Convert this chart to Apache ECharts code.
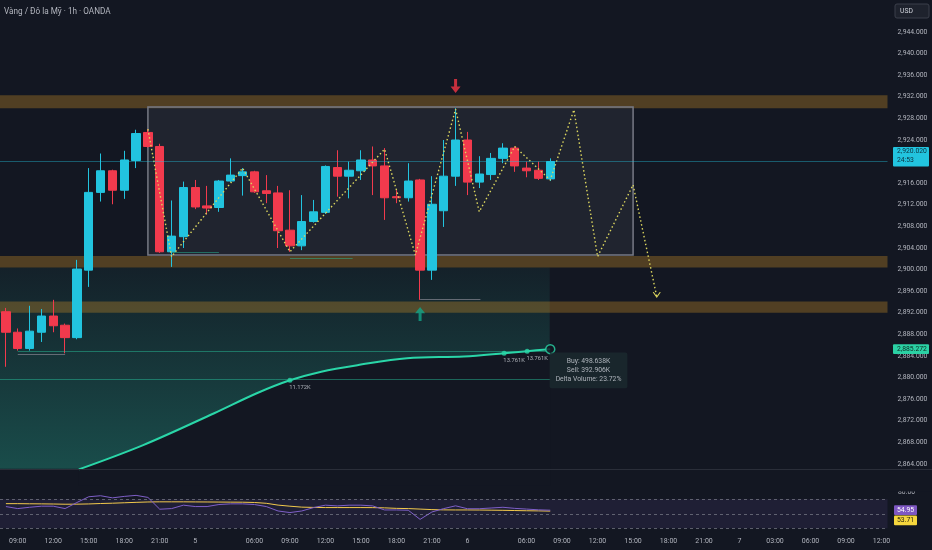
<!DOCTYPE html>
<html>
<head>
<meta charset="utf-8">
<script src="https://cdn.jsdelivr.net/npm/echarts@6.0.0/dist/echarts.min.js"></script>
<style>
html,body{margin:0;padding:0;background:#131722;overflow:hidden}
#chart{width:932px;height:550px}
</style>
</head>
<body>
<div id="chart"></div>
<script>
// ---------- data ----------
const chartTitle = 'Vàng / Đô la Mỹ · 1h · OANDA';
const categories = [
  '4 08:00','4 09:00','4 10:00','4 11:00','4 12:00','4 13:00','4 14:00','4 15:00','4 16:00','4 17:00','4 18:00','4 19:00','4 20:00','4 21:00','4 22:00','4 23:00',
  '5 00:00','5 01:00','5 02:00','5 03:00','5 04:00','5 06:00','5 07:00','5 08:00','5 09:00','5 10:00','5 11:00','5 12:00','5 13:00','5 14:00','5 15:00','5 16:00','5 17:00','5 18:00','5 19:00','5 20:00','5 21:00','5 22:00','5 23:00',
  '6 00:00','6 01:00','6 02:00','6 03:00','6 04:00','6 06:00','6 07:00','6 08:00','6 09:00','6 10:00','6 11:00','6 12:00','6 13:00','6 14:00','6 15:00','6 16:00','6 17:00','6 18:00','6 19:00','6 20:00','6 21:00','6 22:00','6 23:00',
  '7 00:00','7 01:00','7 02:00','7 03:00','7 04:00','7 05:00','7 06:00','7 07:00','7 08:00','7 09:00','7 10:00','7 11:00','7 12:00'
];
const timeLabels = ['4 09:00','4 12:00','4 15:00','4 18:00','4 21:00','5 00:00','5 06:00','5 09:00','5 12:00','5 15:00','5 18:00','5 21:00',
  '6 00:00','6 06:00','6 09:00','6 12:00','6 15:00','6 18:00','6 21:00','7 00:00','7 03:00','7 06:00','7 09:00','7 12:00'];
// [open, close, low, high]
const candles = [
  [2892.2,2888.4,2882.0,2892.9],[2888.4,2885.4,2885.0,2889.1],[2885.4,2888.6,2885.0,2893.3],[2888.4,2891.4,2886.6,2892.7],
  [2891.4,2889.6,2888.4,2894.4],[2889.7,2887.4,2884.5,2890.0],[2887.4,2900.1,2887.1,2901.8],[2899.9,2914.3,2896.8,2918.8],
  [2914.3,2918.3,2912.6,2921.5],[2918.3,2914.7,2912.1,2918.5],[2914.7,2920.3,2913.1,2922.0],[2920.2,2925.2,2918.8,2925.9],
  [2925.4,2922.8,2922.6,2926.0],[2922.8,2903.3,2903.1,2923.3],[2903.3,2906.2,2900.5,2912.8],[2906.1,2915.2,2904.0,2916.3],
  [2915.2,2911.6,2911.2,2916.6],[2911.8,2911.4,2910.2,2915.5],[2911.5,2916.4,2910.7,2916.6],[2916.4,2917.5,2916.2,2920.6],
  [2917.4,2918.1,2913.7,2918.8],[2918.1,2914.4,2914.2,2918.3],[2914.6,2914.1,2912.3,2917.5],[2914.2,2907.2,2904.0,2915.5],
  [2907.3,2904.4,2903.3,2914.7],[2904.4,2908.9,2903.6,2913.8],[2908.9,2910.7,2908.7,2912.9],[2910.6,2919.1,2910.3,2919.3],
  [2918.9,2917.3,2913.5,2922.1],[2917.3,2918.4,2913.2,2920.0],[2918.3,2920.3,2916.6,2922.1],[2920.3,2919.2,2913.8,2922.8],
  [2919.2,2913.3,2909.2,2922.5],[2913.5,2913.3,2912.3,2914.7],[2913.3,2916.4,2912.6,2919.7],[2916.6,2899.9,2894.4,2916.8],
  [2899.9,2912.1,2898.1,2917.3],[2910.9,2917.3,2907.9,2924.0],[2917.3,2924.0,2915.5,2929.9],[2924.0,2916.2,2913.8,2925.5],
  [2916.2,2917.7,2915.1,2921.0],[2917.6,2920.6,2916.6,2921.6],[2920.6,2922.5,2919.7,2923.4],[2922.5,2919.2,2918.1,2922.8],
  [2918.8,2918.3,2917.1,2920.0],[2918.4,2916.9,2916.6,2920.0],[2916.8,2920.02,2916.4,2920.6]
];
const lastPrice = 2920.02;
const countdown = '24:53';
const zones = [[2929.9,2932.3],[2900.4,2902.5],[2892.0,2894.1]];
const rangeBox = [[12,2930.1],[53,2902.7]];
const flowZone = [[-0.5,2900.4],[45.95,2863.1]];
const zigzag = [[12,2926.0],[14,2902.4],[20,2918.8],[24,2903.3],[32,2922.3],[34.6,2902.7],[38,2929.7],[40,2910.7],
  [43,2922.8],[46,2916.6],[48,2929.6],[50,2902.4],[53,2915.7],[55,2895.0]];
const volCurve = [[6.16,2863.0],[11.6,2867.5],[17.6,2873.4],[21.2,2877.1],[24,2879.5],[26.65,2881.1],[29.7,2882.3],
  [33.9,2883.6],[38.7,2883.9],[42.1,2884.5],[44.05,2884.9],[46,2885.272]];
const curveMarkIdx = [4,9,10];
const curveMarkLabels = ['11.172K','13.761K','13.761K'];
const tealLevels = [[14,18,2903.3],[24,29.3,2902.1],[1,46,2884.9],[-0.5,46,2879.7]];
const grayLevels = [[35,40.1,2894.5],[1,5,2884.4]];
const sellSignal = [38,2934.0];
const buySignal = [35,2891.8];
const deltaText = ['Buy: 498.638K','Sell: 392.906K','Delta Volume: 23.72%'];
const rsi = [60,57.2,59,60.5,60.5,57.2,65.6,73.5,74.9,72,74,75.4,72.6,56.3,57.2,61.9,60,60,62.8,63.7,63.7,62.8,60,53.9,
  51.7,53.9,58.6,61.9,60.9,61.9,61.9,60.9,55.3,55.3,54.9,42.3,52.5,57.2,61,57,57,58,59,57.5,56.5,55.5,54.95];
const rsiMa = [64,64,63.8,63.7,63.5,63.2,63.3,63.6,64.2,64.6,65.2,65.8,66.3,66.5,66.5,66.5,66.4,66.3,66.2,66.1,66,65.6,
  64.5,62,60.5,59.2,58.8,58.6,58.6,58.6,58.6,58.5,58.2,57.5,57.2,56.5,55.8,55.4,55.3,55.3,55.2,55,54.8,54.5,54.2,54,53.71];
const rsiLevels = [70,50,30];
const rsiBand = [30,70];

// ---------- style ----------
const BG = '#131722';
const UP = '#22c4df', DOWN = '#f23a4d';
const CURVE = '#2ad6a8';
const TXT = '#b2b5be';
const FONT = 'Roboto, "Noto Sans", sans-serif';

function fmtPrice(v){
  const s = v.toFixed(3).split('.');
  return s[0].replace(/\B(?=(\d{3})+(?!\d))/g, ',') + '.' + s[1];
}

const chart = echarts.init(document.getElementById('chart'));
const ovl = {xAxisIndex:1, yAxisIndex:0};

const option = {
  backgroundColor: BG,
  animation: false,
  title: {text: chartTitle, left: 4, top: 8, padding: 0, textStyle: {fontSize: 8.2, color: TXT, fontWeight: 'normal', fontFamily: FONT}},
  grid: [
    {left: 0, right: 44.5, top: 10.4, bottom: 64.4},
    {left: 0, right: 44.5, top: 484.8, bottom: 14.45}
  ],
  xAxis: [
    {type: 'category', gridIndex: 0, data: categories, boundaryGap: true, show: false},
    {type: 'value', gridIndex: 0, min: -0.5, max: 74.5, show: false},
    {type: 'category', gridIndex: 1, data: categories, boundaryGap: true,
      axisLine: {show: false}, axisTick: {show: false}, splitLine: {show: false},
      axisLabel: {interval: (i, v) => timeLabels.indexOf(v) >= 0, hideOverlap: false,
        formatter: v => { const p = v.split(' '); return p[1] === '00:00' ? p[0] : p[1]; },
        color: TXT, fontSize: 7, margin: 2, fontFamily: FONT}}
  ],
  yAxis: [
    {type: 'value', gridIndex: 0, position: 'right', min: 2860, max: 2948, interval: 4,
      axisLine: {show: false}, axisTick: {show: false}, splitLine: {show: false},
      axisLabel: {color: TXT, fontSize: 6.8, margin: 10, fontFamily: FONT,
        formatter: v => (v <= 2860 || v >= 2948) ? '' : fmtPrice(v)}},
    {type: 'value', gridIndex: 1, min: 20, max: 90, show: false, splitLine: {show: false}}
  ],
  series: [
    // teal flow gradient
    Object.assign({type: 'line', data: [], silent: true,
      markArea: {silent: true, data: [[{xAxis: flowZone[0][0], yAxis: flowZone[0][1]}, {xAxis: flowZone[1][0], yAxis: flowZone[1][1]}]],
        itemStyle: {color: {type: 'linear', x: 0, y: 0, x2: 0, y2: 1, colorStops: [
          {offset: 0, color: 'rgba(38,190,160,0.06)'}, {offset: 1, color: 'rgba(38,190,160,0.32)'}]}}}}, ovl),
    // supply / demand zones
    Object.assign({type: 'line', data: [], silent: true,
      markArea: {silent: true, itemStyle: {color: 'rgba(210,145,40,0.33)'},
        data: zones.map(z => [{xAxis: -0.5, yAxis: z[1]}, {xAxis: 74.5, yAxis: z[0]}])}}, ovl),
    // range box
    Object.assign({type: 'line', data: [], silent: true,
      markArea: {silent: true, itemStyle: {color: 'rgba(150,155,170,0.10)', borderColor: '#777a85', borderWidth: 1.5},
        data: [[{xAxis: rangeBox[0][0], yAxis: rangeBox[0][1]}, {xAxis: rangeBox[1][0], yAxis: rangeBox[1][1]}]]}}, ovl),
    // cumulative volume curve
    Object.assign({type: 'line', data: volCurve, smooth: 0.35, symbol: 'none', silent: true,
      lineStyle: {color: CURVE, width: 2}, areaStyle: {color: BG, opacity: 1, origin: 'start'}}, ovl),
    // levels
    Object.assign({type: 'line', data: [], silent: true,
      markLine: {silent: true, symbol: 'none', label: {show: false},
        data: tealLevels.map(s => [{coord: [s[0], s[2]], lineStyle: {color: 'rgba(40,200,160,0.45)', width: 1, type: 'solid'}}, {coord: [s[1], s[2]]}])
          .concat(grayLevels.map(s => [{coord: [s[0], s[2]], lineStyle: {color: 'rgba(120,123,134,0.8)', width: 1, type: 'solid'}}, {coord: [s[1], s[2]]}]))}}, ovl),
    // candles
    {type: 'candlestick', xAxisIndex: 0, yAxisIndex: 0, data: candles, barWidth: '76%', silent: true,
      itemStyle: {color: UP, color0: DOWN, borderColor: UP, borderColor0: DOWN, borderWidth: 1},
      markLine: {silent: true, symbol: 'none', label: {show: false},
        lineStyle: {color: 'rgba(34,196,223,0.4)', width: 1, type: 'solid'}, data: [{yAxis: lastPrice}]}},
    // zigzag projection
    Object.assign({type: 'line', data: zigzag, symbol: 'none', silent: true, z: 4,
      lineStyle: {color: '#dcd65e', width: 1.4, type: [1.5, 2.5]},
      markPoint: {silent: true, symbol: 'path://M0,0 L5,6 L10,0', symbolSize: [7, 5], symbolOffset: [0, -2],
        itemStyle: {color: 'rgba(0,0,0,0)', borderColor: '#dcd65e', borderWidth: 1}, label: {show: false},
        data: [{coord: zigzag[zigzag.length - 1]}]}}, ovl),
    // signals
    Object.assign({type: 'scatter', silent: true, z: 5,
      symbol: 'path://M3.5,0 L6.5,0 L6.5,6.5 L10,6.5 L5,12 L0,6.5 L3.5,6.5 Z', symbolSize: [10, 14],
      data: [{value: sellSignal, symbolRotate: 0, itemStyle: {color: '#f23645'}},
             {value: buySignal, symbolRotate: 180, itemStyle: {color: '#12a488'}}]}, ovl),
    // curve markers
    Object.assign({type: 'scatter', silent: true, z: 5, symbol: 'circle', symbolSize: 5, itemStyle: {color: CURVE},
      label: {show: true, position: 'bottom', distance: 2, offset: [10, 0], fontSize: 5.8, color: '#d1d4dc', fontFamily: FONT},
      data: curveMarkIdx.map((k, j) => ({value: volCurve[k], label: {formatter: curveMarkLabels[j]}}))}, ovl),
    // end point + delta annotation
    Object.assign({type: 'scatter', silent: true, z: 6, symbol: 'circle', symbolSize: 9,
      itemStyle: {color: BG, borderColor: CURVE, borderWidth: 1.5},
      label: {show: true, position: [43.5, 8.5], align: 'center', verticalAlign: 'top', formatter: deltaText.join('\n'),
        fontSize: 6.8, lineHeight: 9.3, color: '#d1d4dc', fontFamily: FONT, backgroundColor: '#1c2b30', padding: [4, 6], borderRadius: 2},
      data: [volCurve[volCurve.length - 1]]}, ovl),
    // oscillator
    {type: 'line', xAxisIndex: 2, yAxisIndex: 1, data: rsiMa, symbol: 'none', silent: true,
      lineStyle: {color: '#f2c94c', width: 1},
      markArea: {silent: true, itemStyle: {color: 'rgba(126,87,194,0.12)'}, data: [[{yAxis: rsiBand[0]}, {yAxis: rsiBand[1]}]]},
      markLine: {silent: true, symbol: 'none', label: {show: false},
        lineStyle: {color: 'rgba(140,143,154,0.6)', type: [3, 3], width: 1}, data: rsiLevels.map(v => ({yAxis: v}))}},
    {type: 'line', xAxisIndex: 2, yAxisIndex: 1, data: rsi, symbol: 'none', silent: true,
      lineStyle: {color: '#7e5fc8', width: 1}}
  ]
};
chart.setOption(option);

// right-hand tags
const yLast = chart.convertToPixel({yAxisIndex: 0}, lastPrice);
const curveLast = volCurve[volCurve.length - 1][1];
const yCurve = chart.convertToPixel({yAxisIndex: 0}, curveLast);
const yRsi = chart.convertToPixel({yAxisIndex: 1}, rsi[rsi.length - 1]);
const y80 = chart.convertToPixel({yAxisIndex: 1}, 80);
const tf = {fontSize: 6.8, fontFamily: FONT};
chart.setOption({graphic: [
  {type: 'line', shape: {x1: 0, y1: 469.5, x2: 932, y2: 469.5}, style: {stroke: '#2a2e39', lineWidth: 1}, z: 50},
  {type: 'text', x: 898, y: y80, style: Object.assign({text: '80.00', fill: TXT, verticalAlign: 'middle'}, tf), z: 50},
  {type: 'rect', shape: {x: 888, y: 470.5, width: 44, height: y80 - 471}, style: {fill: BG}, z: 51},
  {type: 'rect', shape: {x: 895, y: 4, width: 34, height: 14, r: 2}, style: {fill: '#1e222d', stroke: '#3b3f4b', lineWidth: 1}, z: 50},
  {type: 'text', x: 900, y: 11, style: Object.assign({text: 'USD', fill: '#d1d4dc', verticalAlign: 'middle'}, tf), z: 51},
  {type: 'rect', shape: {x: 893, y: yLast - 14.5, width: 36, height: 19.5, r: 1}, style: {fill: '#22c4df'}, z: 50},
  {type: 'text', x: 897, y: yLast - 9.8, style: Object.assign({text: fmtPrice(lastPrice), fill: '#0b3240', verticalAlign: 'middle'}, tf), z: 51},
  {type: 'text', x: 897, y: yLast - 0.8, style: Object.assign({text: countdown, fill: '#0b3240', verticalAlign: 'middle'}, tf), z: 51},
  {type: 'rect', shape: {x: 893, y: yCurve - 4.8, width: 36, height: 9.6, r: 1}, style: {fill: '#2bd1a4'}, z: 50},
  {type: 'text', x: 897, y: yCurve, style: Object.assign({text: fmtPrice(curveLast), fill: '#0d2b24', verticalAlign: 'middle'}, tf), z: 51},
  {type: 'rect', shape: {x: 894, y: yRsi - 5, width: 23, height: 9.8, r: 1}, style: {fill: '#7e57c2'}, z: 50},
  {type: 'text', x: 897, y: yRsi, style: Object.assign({text: rsi[rsi.length - 1].toFixed(2), fill: '#ffffff', verticalAlign: 'middle'}, tf), z: 51},
  {type: 'rect', shape: {x: 894, y: yRsi + 5.2, width: 23, height: 9.8, r: 1}, style: {fill: '#f5d63d'}, z: 50},
  {type: 'text', x: 897, y: yRsi + 10.1, style: Object.assign({text: rsiMa[rsiMa.length - 1].toFixed(2), fill: '#2a2410', verticalAlign: 'middle'}, tf), z: 51}
]});
</script>
</body>
</html>
